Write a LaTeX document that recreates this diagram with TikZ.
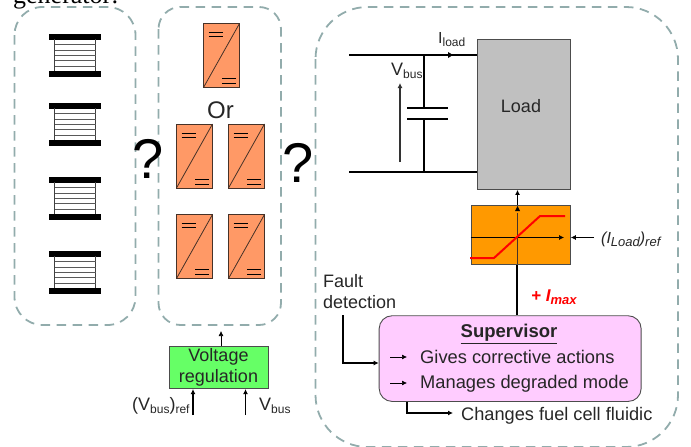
\documentclass[tikz,border=0pt]{standalone}
\usepackage{fontspec}
\setmainfont{Liberation Sans}
\newfontfamily\serifface{Liberation Serif}
\usetikzlibrary{arrows.meta}
\newcommand{\fs}[1]{\fontsize{#1}{#1}\selectfont}
\newcommand{\sbs}[1]{\raisebox{-0.22em}{\fs{12}#1}}
\newcommand{\sbm}[1]{\raisebox{-0.22em}{\fs{13}#1}}
\definecolor{panelc}{RGB}{146,172,172}
\definecolor{convc}{RGB}{255,153,102}
\definecolor{regc}{RGB}{102,255,102}
\definecolor{loadc}{RGB}{192,192,192}
\definecolor{limc}{RGB}{255,153,0}
\definecolor{supc}{RGB}{255,204,255}
\definecolor{edgec}{RGB}{70,50,40}
\tikzset{
 x=1pt,y=-1pt,
 panel/.style={draw=panelc,line width=1.8pt,dash pattern=on 9.5pt off 6.5pt,rounded corners=#1},
 lbl/.style={anchor=base west,inner sep=0pt,text=black!85},
 tip/.style={-{Latex[length=5pt,width=5pt]}},
 thin conn/.style={line width=0.9pt,tip},
 wire/.style={line width=1.7pt},
 boxed/.style={draw=black!70,line width=0.9pt,inner sep=0pt,anchor=north west,minimum width=#1},
 pics/stack/.style={code={
   \fill (-26,0) rectangle (26,5.5);
   \fill (-26,37) rectangle (26,43);
   \draw[line width=0.8pt,black!75] (-20.5,5) -- (-20.5,37) (20.5,5) -- (20.5,37);
   \foreach \yy in {10.5,16,21,26.5,32}{\draw[line width=0.8pt,black!65] (-20.5,\yy) -- (20.5,\yy);}
 }},
 pics/conv/.style={code={
   \draw[edgec,fill=convc,line width=0.9pt] (0,0) rectangle (36,64);
   \draw[edgec,line width=0.8pt] (0,64) -- (36,0);
   \draw[black,line width=0.7pt] (5,9) -- (19,9) (5,13) -- (19,13) (18.5,55) -- (32.5,55) (18.5,60) -- (32.5,60);
 }},
}
\begin{document}
\begin{tikzpicture}
\useasboundingbox (0,0) rectangle (691,447);
\begin{scope}
\clip (0,0) rectangle (691,447);
\node[anchor=base west,inner sep=0pt] (gen) at (13,4) {\serifface\fs{26}generator:};
\draw[panel=28pt] (14.5,7) rectangle (135.5,325);
\draw[panel=22pt] (158.5,7) rectangle (281,325);
\draw[panel=52pt] (315.5,7) rectangle (678,447);
\end{scope}
% stacks
\pic at (75,34) {stack};
\pic at (75,103) {stack};
\pic at (75,177) {stack};
\pic at (75,251) {stack};
% converters
\pic at (203.5,23.5) {conv};
\pic at (176.5,124) {conv};
\pic at (228.5,124) {conv};
\pic at (176.5,214.5) {conv};
\pic at (228.5,214.5) {conv};
\node[lbl,anchor=base] (or) at (220.5,118) {\fs{24}Or};
\node[anchor=base,inner sep=0pt] (q1) at (148,178) {\fs{56}?};
\node[anchor=base,inner sep=0pt] (q2) at (298,182) {\fs{56}?};
% regulation
\node[boxed=99.5pt,fill=regc,minimum height=42.5pt,align=center] (reg) at (168.7,345.7) {};
\node[lbl,anchor=base] (regt1) at (218.5,361.5) {\fs{18}Voltage};
\node[lbl,anchor=base] (regt2) at (218.5,382) {\fs{18}regulation};
\coordinate (panelb) at (221,331);
\draw[line width=0.7pt,tip] (reg.north -| panelb) -- (panelb);
\coordinate (vr) at (193,415);
\coordinate (vb) at (245.5,415);
\draw[thin conn,line width=1.1pt] (vr) -- (reg.south -| vr);
\draw[thin conn,line width=1.1pt] (vb) -- (reg.south -| vb);
\node[lbl] (vrl) at (132,410) {\fs{18}(V\sbs{bus})\sbs{ref}};
\node[lbl] (vbl) at (259,410) {\fs{18}V\sbs{bus}};
% load and circuit
\node[boxed=93.3pt,fill=loadc,minimum height=150pt] (load) at (476.7,39) {};
\node[lbl,anchor=base] (loadt) at (521,112) {\fs{18}Load};
\coordinate (t0) at (349,55);
\coordinate (b0) at (349,172);
\coordinate (tj) at (424,55);
\coordinate (bj) at (424,172);
\coordinate (c1) at (424,108);
\coordinate (c2) at (424,119);
\coordinate (ia) at (453,55);
\draw[wire] (t0) -- (t0 -| load.west);
\draw[wire] (b0) -- (b0 -| load.west);
\draw[wire] (tj) -- (c1) (c2) -- (bj);
\draw[wire] ([xshift=-17pt]c1) -- ([xshift=24pt]c1);
\draw[wire] ([xshift=-17pt]c2) -- ([xshift=24pt]c2);
\fill ([xshift=-5pt,yshift=-3pt]ia) -- ([yshift=0pt]ia) -- ([xshift=-5pt,yshift=3pt]ia) -- cycle;
\coordinate (v1) at (400,162);
\coordinate (v2) at (400,83);
\draw[thin conn,black!80,line width=1.1pt] (v1) -- (v2);
\node[lbl] (vbus) at (391,75) {\fs{18}V\sbs{bus}};
\node[lbl] (iload) at (438,43) {\fs{16}I\sbs{load}};
% limiter
\node[boxed=99.3pt,fill=limc,minimum height=59.3pt] (lim) at (470.7,204.7) {};
\draw[line width=1pt,tip] (lim.north -| 517.5,0) -- (load.south -| 517.5,0);
\draw[edgec,line width=0.8pt] (517.5,264) -- (517.5,213);
\fill (517.5,206) -- (520,211) -- (515,211) -- cycle;
\draw[line width=0.6pt,tip] (470.7,237.5) -- (564,237.5);
\draw[red,line width=2pt] (470,258) -- (494,258) -- (540,216) -- (565,216);
\coordinate (ir) at (594,237.5);
\draw[line width=0.7pt,tip] (ir) -- (ir -| lim.east);
\node[lbl] (irl) at (601,243) {\fs{16}\itshape (I\sbm{Load})\sbm{ref}};
% supervisor
\node[boxed=262pt,fill=supc,rounded corners=13pt,minimum height=85.7pt] (sup) at (378.7,315.3) {};
\draw[wire] (lim.south -| 517,0) -- (sup.north -| 517,0);
\node[lbl,text=red,font=\bfseries\itshape] (imax) at (531,301) {\fs{17}+ I\sbm{max}};
\node[lbl,anchor=base,font=\bfseries] (supt) at (509,337.5) {\fs{18.5}\underline{Supervisor}};
\coordinate (a1) at (390,357);
\coordinate (a2) at (390,383);
\draw[line width=0.7pt,tip] (a1) -- ++(17,0);
\draw[line width=0.7pt,tip] (a2) -- ++(17,0);
\node[lbl] (g) at (420,363) {\fs{18.3}Gives corrective actions};
\node[lbl] (m) at (420,388) {\fs{18.3}Manages degraded mode};
\node[lbl] (f1) at (323,287) {\fs{18}Fault};
\node[lbl] (f2) at (323,308) {\fs{18}detection};
\coordinate (fd) at (343,315);
\coordinate (fi) at (343,363);
\draw[line width=1.1pt,tip] (fd) -- (fi) -- (fi -| sup.west);
\coordinate (co) at (407,413);
\coordinate (ce) at (453,413);
\draw[line width=1.1pt,tip] (sup.south -| co) -- (co) -- (ce);
\node[lbl] (ct) at (461,420) {\fs{18.2}Changes fuel cell fluidic};
\end{tikzpicture}
\end{document}
